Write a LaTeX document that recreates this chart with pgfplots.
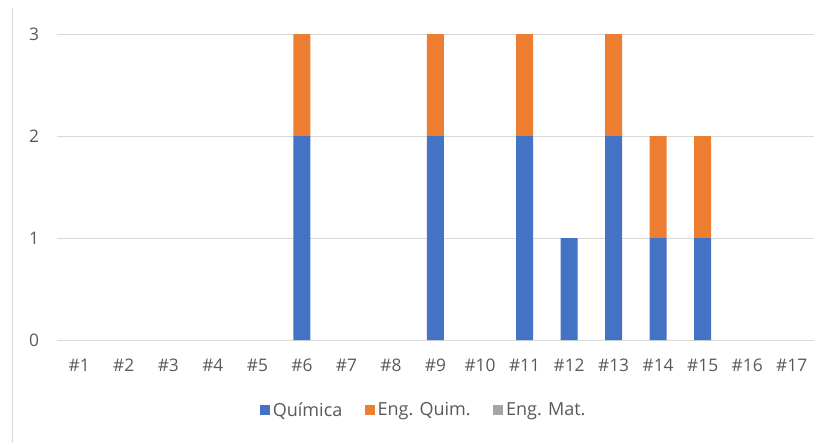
\documentclass[border=0pt]{standalone}
\usepackage{fontspec}
\setmainfont{Open Sans}
\usepackage{pgfplots}
\pgfplotsset{compat=1.18}
\definecolor{cBlue}{HTML}{4472C4}
\definecolor{cOrange}{HTML}{ED7D31}
\definecolor{cGray}{HTML}{A5A5A5}
\definecolor{cText}{HTML}{595959}
\definecolor{cGrid}{HTML}{D9D9D9}
\begin{document}
\begin{tikzpicture}
\path[use as bounding box] (0,0) rectangle (619.5pt,-332.25pt);
\draw[cGrid, line width=0.75pt] (9pt,-6pt) -- (9pt,-332.25pt);
\begin{axis}[
    at={(42.75pt,-255pt)}, anchor=south west,
    scale only axis, width=567.75pt, height=229.5pt,
    ybar stacked, bar width=12.75pt,
    xmin=0.5, xmax=17.5, ymin=0, ymax=3,
    axis line style={draw=none},
    ymajorgrids, ytick={0,1,2,3},
    grid style={cGrid, line width=0.75pt},
    xtick={1,...,17},
    xticklabels={\#1,\#2,\#3,\#4,\#5,\#6,\#7,\#8,\#9,\#10,\#11,\#12,\#13,\#14,\#15,\#16,\#17},
    major tick length=0pt,
    /pgf/number format/assume math mode=true,
    tick label style={font=\fontsize{13}{15}\selectfont, text=cText},
    yticklabel style={xshift=-10pt},
    xticklabel style={yshift=-11pt},
    legend style={draw=none, at={(0.485,-0.23)}, anchor=center,
        font=\fontsize{13.5}{15}\selectfont, text=cText,
        /tikz/every even column/.append style={column sep=15pt}},
    legend columns=3,
    legend image code/.code={\fill[#1] (0pt,-3.75pt) rectangle (7.5pt,3.75pt);},
]
\addplot[fill=cBlue, draw=none] coordinates {
(1,0) (2,0) (3,0) (4,0) (5,0) (6,2) (7,0) (8,0) (9,2) (10,0)
(11,2) (12,1) (13,2) (14,1) (15,1) (16,0) (17,0)};
\addplot[fill=cOrange, draw=none] coordinates {
(1,0) (2,0) (3,0) (4,0) (5,0) (6,1) (7,0) (8,0) (9,1) (10,0)
(11,1) (12,0) (13,1) (14,1) (15,1) (16,0) (17,0)};
\addplot[fill=cGray, draw=none] coordinates {
(1,0) (2,0) (3,0) (4,0) (5,0) (6,0) (7,0) (8,0) (9,0) (10,0)
(11,0) (12,0) (13,0) (14,0) (15,0) (16,0) (17,0)};
\legend{Química, Eng. Quim., Eng. Mat.}
\end{axis}
\end{tikzpicture}
\end{document}
